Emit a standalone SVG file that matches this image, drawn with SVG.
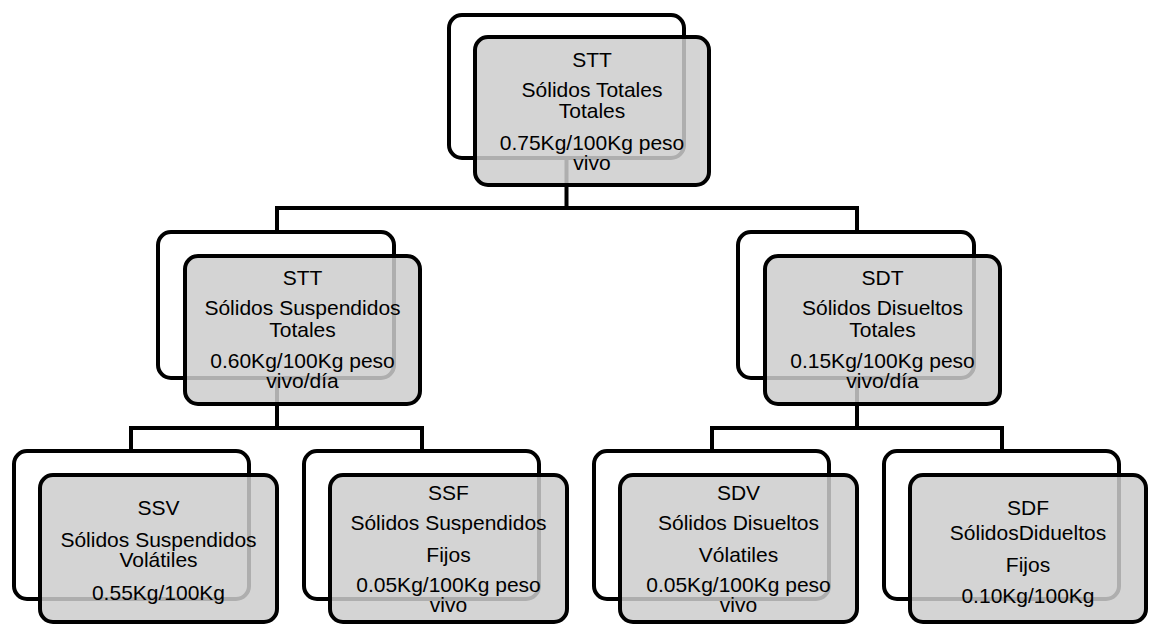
<svg xmlns="http://www.w3.org/2000/svg" width="1149" height="625" viewBox="0 0 1149 625">
<style>
.bg{fill:#ffffff}
.back{fill:none;stroke:#000;stroke-width:4}
.front{fill:#cccccc;fill-opacity:0.85;stroke:#000;stroke-width:4}
.conn{fill:none;stroke:#000;stroke-width:4}
text{font-family:"Liberation Sans",Arial,sans-serif;font-size:21px;fill:#000;text-anchor:middle}
</style>
<rect class="bg" x="0" y="0" width="1149" height="625"/>
<g id="connectors">
<path class="conn" d="M566.5,158 V208 M277,208 H857 M277,206 V232 M857,206 V232"/>
<path class="conn" d="M277,378 V428 M131,428 H422 M131,426 V451 M422,426 V451"/>
<path class="conn" d="M857,378 V428 M712,428 H1002 M712,426 V451 M1002,426 V451"/>
</g>
<g id="node-top">
<rect class="back" x="449" y="15" width="235" height="143" rx="13"/>
<rect class="front" x="475" y="37" width="234" height="148" rx="13"/>
<text><tspan x="592" y="67">STT</tspan><tspan x="592" y="97">Sólidos Totales</tspan><tspan x="592" y="118">Totales</tspan><tspan x="592" y="150">0.75Kg/100Kg peso</tspan><tspan x="592" y="170">vivo</tspan></text>
</g>
<g id="node-sst">
<rect class="back" x="158" y="232" width="236" height="146" rx="13"/>
<rect class="front" x="185" y="256" width="235" height="148" rx="13"/>
<text><tspan x="302.5" y="285">STT</tspan><tspan x="302.5" y="315">Sólidos Suspendidos</tspan><tspan x="302.5" y="337">Totales</tspan><tspan x="302.5" y="368">0.60Kg/100Kg peso</tspan><tspan x="302.5" y="388">vivo/día</tspan></text>
</g>
<g id="node-sdt">
<rect class="back" x="738" y="232" width="236" height="146" rx="13"/>
<rect class="front" x="765" y="256" width="235" height="148" rx="13"/>
<text><tspan x="882.5" y="285">SDT</tspan><tspan x="882.5" y="315">Sólidos Disueltos</tspan><tspan x="882.5" y="337">Totales</tspan><tspan x="882.5" y="368">0.15Kg/100Kg peso</tspan><tspan x="882.5" y="388">vivo/día</tspan></text>
</g>
<g id="node-ssv">
<rect class="back" x="14" y="451" width="235" height="148" rx="13"/>
<rect class="front" x="40" y="475" width="237" height="147" rx="13"/>
<text><tspan x="158.5" y="515">SSV</tspan><tspan x="158.5" y="546.7">Sólidos Suspendidos</tspan><tspan x="158.5" y="566.7">Volátiles</tspan><tspan x="158.5" y="600">0.55Kg/100Kg</tspan></text>
</g>
<g id="node-ssf">
<rect class="back" x="304" y="451" width="235" height="148" rx="13"/>
<rect class="front" x="330" y="475" width="237" height="147" rx="13"/>
<text><tspan x="448.5" y="500">SSF</tspan><tspan x="448.5" y="530">Sólidos Suspendidos</tspan><tspan x="448.5" y="561.7">Fijos</tspan><tspan x="448.5" y="591.7">0.05Kg/100Kg peso</tspan><tspan x="448.5" y="611.7">vivo</tspan></text>
</g>
<g id="node-sdv">
<rect class="back" x="594" y="451" width="235" height="148" rx="13"/>
<rect class="front" x="620" y="475" width="237" height="147" rx="13"/>
<text><tspan x="738.5" y="500">SDV</tspan><tspan x="738.5" y="530">Sólidos Disueltos</tspan><tspan x="738.5" y="561.7">Vólatiles</tspan><tspan x="738.5" y="591.7">0.05Kg/100Kg peso</tspan><tspan x="738.5" y="611.7">vivo</tspan></text>
</g>
<g id="node-sdf">
<rect class="back" x="884" y="451" width="235" height="148" rx="13"/>
<rect class="front" x="910" y="475" width="236" height="147" rx="13"/>
<text><tspan x="1028" y="515">SDF</tspan><tspan x="1028" y="540">SólidosDidueltos</tspan><tspan x="1028" y="571.7">Fijos</tspan><tspan x="1028" y="603.3">0.10Kg/100Kg</tspan></text>
</g>
</svg>
